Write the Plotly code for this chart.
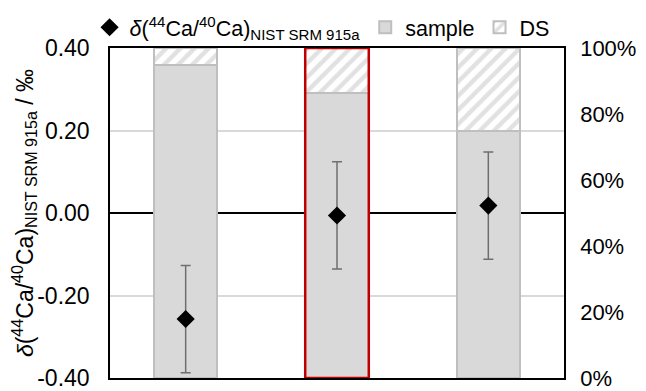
import plotly.graph_objects as go

categories = [0, 1, 2]
delta_values = [-0.257, -0.006, 0.018]
delta_errors = [0.130, 0.130, 0.130]
sample_frac = [0.95, 0.865, 0.75]
ds_frac = [0.05, 0.135, 0.25]
left_ticks = [-0.4, -0.2, 0.0, 0.2, 0.4]
left_ticktext = ["-0.40", "-0.20", "0.00", "0.20", "0.40"]
right_ticks = [0, 0.2, 0.4, 0.6, 0.8, 1.0]
right_ticktext = ["0%", "20%", "40%", "60%", "80%", "100%"]
highlight_index = 1
bar_width = 0.42

FONT = "Liberation Sans, Arial, sans-serif"

fig = go.Figure()

fig.add_trace(go.Scatter(
    x=categories, y=delta_values, yaxis="y2", mode="markers",
    name="<i>δ</i>(<sup>44</sup>Ca/<sup>40</sup>Ca)<sub>NIST SRM 915a</sub>",
    marker=dict(symbol="diamond", size=14, color="black"),
    error_y=dict(type="data", array=delta_errors, color="#6f6f6f", thickness=1.5, width=5),
))

fig.add_trace(go.Bar(
    x=categories, y=sample_frac, yaxis="y", name="sample", width=bar_width,
    marker=dict(color="#d9d9d9", line=dict(color="#bfbfbf", width=2)),
))
fig.add_trace(go.Bar(
    x=categories, y=ds_frac, yaxis="y", name="DS", width=bar_width,
    marker=dict(color="white", line=dict(color="#bfbfbf", width=2),
                pattern=dict(shape="/", fgcolor="#c4c4c4", bgcolor="white", size=10, solidity=0.45)),
))

total = sample_frac[highlight_index] + ds_frac[highlight_index]
fig.add_shape(type="rect", xref="x", yref="y",
              x0=categories[highlight_index] - bar_width / 2,
              x1=categories[highlight_index] + bar_width / 2,
              y0=0, y1=total, line=dict(color="#c00000", width=2.5), layer="above")

fig.update_layout(
    barmode="stack",
    width=638, height=383,
    margin=dict(l=102, r=82, t=40, b=13, autoexpand=False),
    paper_bgcolor="white", plot_bgcolor="white",
    font=dict(family=FONT, size=22, color="black"),
    showlegend=True,
    legend=dict(orientation="h", x=-0.045, y=1.125, yanchor="top", xanchor="left",
                traceorder="normal",
                font=dict(size=21.5), itemwidth=30, tracegroupgap=0,
                bgcolor="rgba(0,0,0,0)"),
    xaxis=dict(range=[-0.5, 2.5], showticklabels=False, ticks="", showgrid=False,
               zeroline=False, showline=True, linecolor="black", linewidth=1.5, mirror=True),
    yaxis=dict(side="right", range=[0, 1], tickvals=right_ticks, ticktext=right_ticktext,
               showgrid=False, zeroline=False, showline=True, linecolor="black", linewidth=1.5,
               ticks="", tickfont=dict(size=22), ticklabelstandoff=10,
               ticklabeloverflow="allow"),
    yaxis2=dict(overlaying="y", side="left", range=[-0.4, 0.4], tickvals=left_ticks,
                ticktext=left_ticktext, showgrid=True, gridcolor="#d9d9d9", gridwidth=1.5,
                zeroline=True, zerolinecolor="black", zerolinewidth=1.5,
                showline=True, linecolor="black", linewidth=1.5, ticks="",
                tickfont=dict(size=23), ticklabelstandoff=14, ticklabeloverflow="allow",
                title=dict(text="<i>δ</i>(<sup>44</sup>Ca/<sup>40</sup>Ca)<sub>NIST SRM 915a</sub> / ‰",
                           font=dict(size=23), standoff=12)),
)

fig.write_html("out.html")
